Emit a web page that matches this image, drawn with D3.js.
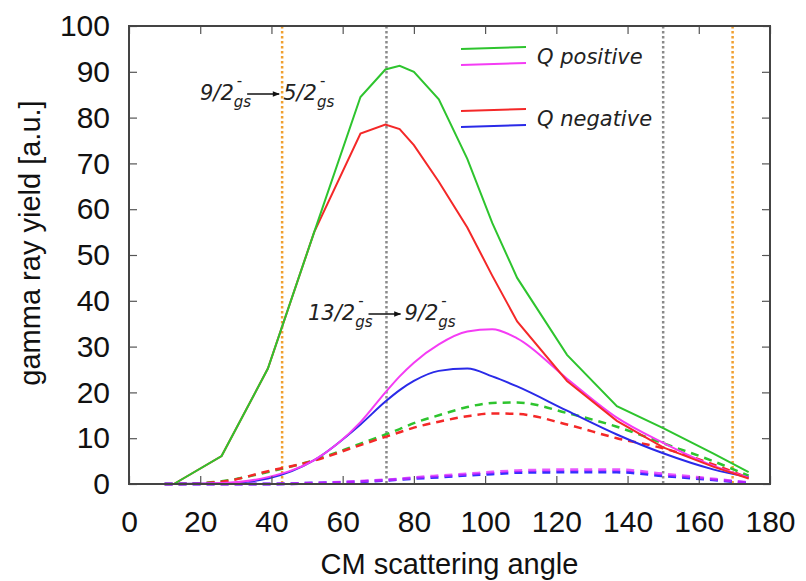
<!DOCTYPE html>
<html>
<head>
<meta charset="utf-8">
<script src="https://cdn.jsdelivr.net/npm/d3@7"></script>
<style>
  body { margin: 0; background: #fff; }
  svg { display: block; }
</style>
</head>
<body>
<div></div>
<script>
const W = 806, H = 581;

// CM angles where the curves were evaluated
const angles = [10, 12.6, 26, 39, 52, 65, 72, 76, 80, 87, 95, 102, 109, 123, 137, 150, 164, 174];

// 9/2- -> 5/2- transition
const greenSolid = [null, 0, 6.1, 25.2, 55, 84.5, 90.5, 91.3, 90, 84, 71, 57, 45, 28.2, 17, 12.2, 6.7, 2.6];
const redSolid   = [null, 0, 6.1, 25.2, 55, 76.5, 78.5, 77.5, 74, 66, 56, 45.5, 35.5, 22.5, 13.8, 8, 3.8, 1.2];
// 13/2- -> 9/2- transition
const magentaSolid = [0, 0, 0.2, 1.5, 5.2, 13.5, 20, 23.5, 26.5, 30.5, 33.3, 33.8, 31.8, 23, 14.5, 9, 4, 1.4];
const blueSolid    = [0, 0, 0.1, 1.2, 5.2, 13, 18, 20.5, 22.5, 24.7, 25.2, 23.5, 21.3, 16, 10.8, 6.7, 3.2, 1.5];
// dashed curves
const greenDashed   = [0, 0, 0.6, 2.6, 5.2, 8.8, 10.8, 12, 13.3, 15, 16.8, 17.7, 17.8, 15.5, 12.5, 8.9, 5, 1.8];
const redDashed     = [0, 0, 0.5, 2.8, 5.1, 8.5, 10.3, 11.3, 12.3, 13.6, 14.8, 15.4, 15.3, 13, 10, 7.8, 4.3, 1.3];
const blueDashed    = [0, 0, 0, 0, 0.2, 0.5, 0.8, 1, 1.2, 1.5, 1.9, 2.2, 2.5, 2.6, 2.6, 1.8, 0.9, 0.2];
const magentaDashed = [0, 0, 0, 0, 0.2, 0.6, 0.9, 1.1, 1.4, 1.8, 2.2, 2.6, 2.9, 3.1, 3.1, 2.2, 1.1, 0.3];

// vertical marker angles
const orangeLines = [43, 169.5];
const grayLines = [72.3, 150];

const xTicks = [0, 20, 40, 60, 80, 100, 120, 140, 160, 180];
const yTicks = [0, 10, 20, 30, 40, 50, 60, 70, 80, 90, 100];

const GREEN = '#2ec42e', RED = '#f42828', MAGENTA = '#f43cf4', BLUE = '#2a2ae8';

const svg = d3.select('div').append('svg')
    .attr('width', W).attr('height', H)
    .attr('viewBox', `0 0 ${W} ${H}`);

svg.append('rect').attr('width', W).attr('height', H).attr('fill', '#fff');

const x = d3.scaleLinear().domain([0, 180]).range([129, 770]);
const y = d3.scaleLinear().domain([0, 100]).range([484, 26]);

const defs = svg.append('defs');
defs.append('marker')
    .attr('id', 'arrow')
    .attr('viewBox', '0 0 10 10')
    .attr('refX', 9).attr('refY', 5)
    .attr('markerWidth', 8).attr('markerHeight', 7)
    .attr('markerUnits', 'userSpaceOnUse')
    .attr('orient', 'auto')
    .append('path').attr('d', 'M0,1 L10,5 L0,9 z').attr('fill', '#111');

// vertical dotted lines
svg.selectAll('.vo').data(orangeLines).join('line')
    .attr('x1', d => x(d)).attr('x2', d => x(d))
    .attr('y1', y(100)).attr('y2', y(0))
    .attr('stroke', '#f0a030').attr('stroke-width', 2.5)
    .attr('stroke-dasharray', '2.5,2.5');
svg.selectAll('.vg').data(grayLines).join('line')
    .attr('x1', d => x(d)).attr('x2', d => x(d))
    .attr('y1', y(100)).attr('y2', y(0))
    .attr('stroke', '#8a8a8a').attr('stroke-width', 2.5)
    .attr('stroke-dasharray', '2.5,2.5');

// curves
const series = [
    { vals: greenDashed, color: GREEN, dash: '8,6', w: 2.5, curve: d3.curveMonotoneX },
    { vals: redDashed, color: RED, dash: '8,6', w: 2.5, curve: d3.curveMonotoneX },
    { vals: blueDashed, color: '#3030ff', dash: '8,6', w: 3, curve: d3.curveMonotoneX },
    { vals: magentaDashed, color: '#e020ff', dash: '8,6', w: 3, curve: d3.curveMonotoneX, op: 0.75 },
    { vals: blueSolid, color: BLUE, dash: null, w: 2, curve: d3.curveMonotoneX },
    { vals: magentaSolid, color: MAGENTA, dash: null, w: 2, curve: d3.curveMonotoneX },
    { vals: redSolid, color: RED, dash: null, w: 2, curve: d3.curveLinear },
    { vals: greenSolid, color: GREEN, dash: null, w: 2, curve: d3.curveLinear }
];

series.forEach(s => {
    const pts = angles.map((a, i) => [a, s.vals[i]]);
    const line = d3.line()
        .defined(d => d[1] !== null)
        .x(d => x(d[0])).y(d => y(d[1]))
        .curve(s.curve);
    svg.append('path')
        .datum(pts)
        .attr('d', line)
        .attr('fill', 'none')
        .attr('stroke', s.color)
        .attr('stroke-width', s.w)
        .attr('stroke-opacity', s.op || 1)
        .attr('stroke-dasharray', s.dash);
});

// axes, ticks pointing inward on all four sides
const axisFont = '"Liberation Sans", Arial, Helvetica, sans-serif';
const TICK = 8;

const gx = svg.append('g').attr('transform', `translate(0,${y(0)})`)
    .call(d3.axisBottom(x).tickValues(xTicks).tickSizeInner(-TICK).tickSizeOuter(0).tickPadding(27));
const gy = svg.append('g').attr('transform', `translate(${x(0)},0)`)
    .call(d3.axisLeft(y).tickValues(yTicks).tickSizeInner(-TICK).tickSizeOuter(0).tickPadding(19));
const gt = svg.append('g').attr('transform', `translate(0,${y(100)})`)
    .call(d3.axisTop(x).tickValues(xTicks).tickSizeInner(-TICK).tickSizeOuter(0).tickFormat(''));
const gr = svg.append('g').attr('transform', `translate(${x(180)},0)`)
    .call(d3.axisRight(y).tickValues(yTicks).tickSizeInner(-TICK).tickSizeOuter(0).tickFormat(''));

[gx, gy, gt, gr].forEach(g => {
    g.select('.domain').remove();
    g.selectAll('.tick line').attr('stroke', '#555').attr('stroke-width', 1.2);
    g.selectAll('.tick text')
        .attr('font-family', axisFont)
        .attr('font-size', 30)
        .attr('fill', '#111');
});

svg.append('rect')
    .attr('x', x(0)).attr('y', y(100))
    .attr('width', x(180) - x(0)).attr('height', y(0) - y(100))
    .attr('fill', 'none').attr('stroke', '#444').attr('stroke-width', 2);

// axis titles
svg.append('text')
    .attr('x', (x(0) + x(180)) / 2).attr('y', 574)
    .attr('text-anchor', 'middle')
    .attr('font-family', axisFont).attr('font-size', 29).attr('fill', '#111')
    .text('CM scattering angle');
svg.append('text')
    .attr('transform', 'translate(40,243) rotate(-90)')
    .attr('text-anchor', 'middle')
    .attr('font-family', axisFont).attr('font-size', 29).attr('fill', '#111')
    .text('gamma ray yield [a.u.]');

// legend
const legFont = '"DejaVu Sans", Verdana, sans-serif';
const legend = [
    { label: 'Q positive', colors: [GREEN, MAGENTA], y: 48 },
    { label: 'Q negative', colors: [RED, BLUE], y: 110 }
];
legend.forEach(l => {
    l.colors.forEach((c, i) => {
        const yy = l.y + i * 16;
        svg.append('line')
            .attr('x1', 461).attr('x2', 526)
            .attr('y1', yy + 1).attr('y2', yy - 1)
            .attr('stroke', c).attr('stroke-width', 2);
    });
    svg.append('text')
        .attr('x', 537).attr('y', l.y + 16)
        .attr('font-family', legFont).attr('font-style', 'italic')
        .attr('font-size', 21).attr('fill', '#222')
        .text(l.label);
});

// transition labels like 9/2^-_gs
function levelLabel(x0, base, main) {
    const t = svg.append('text')
        .attr('x', x0).attr('y', base)
        .attr('font-family', legFont).attr('font-style', 'italic')
        .attr('font-size', 21).attr('fill', '#222')
        .text(main);
    const w = t.node().getComputedTextLength();
    svg.append('text')
        .attr('x', x0 + w + 3).attr('y', base - 14)
        .attr('font-family', legFont).attr('font-size', 15).attr('fill', '#222')
        .text('-');
    const s = svg.append('text')
        .attr('x', x0 + w).attr('y', base + 7)
        .attr('font-family', legFont).attr('font-style', 'italic')
        .attr('font-size', 15).attr('fill', '#222')
        .text('gs');
    return x0 + w + s.node().getComputedTextLength();
}

function transition(x0, base, from, to) {
    const e1 = levelLabel(x0, base, from);
    const ax0 = e1 - 4, ax1 = ax0 + 32;
    svg.append('line')
        .attr('x1', ax0).attr('x2', ax1)
        .attr('y1', base - 6).attr('y2', base - 6)
        .attr('stroke', '#111').attr('stroke-width', 1.5)
        .attr('marker-end', 'url(#arrow)');
    levelLabel(ax1 + 4, base, to);
}

transition(200, 100, '9/2', '5/2');
transition(308, 320, '13/2', '9/2');
</script>
</body>
</html>
